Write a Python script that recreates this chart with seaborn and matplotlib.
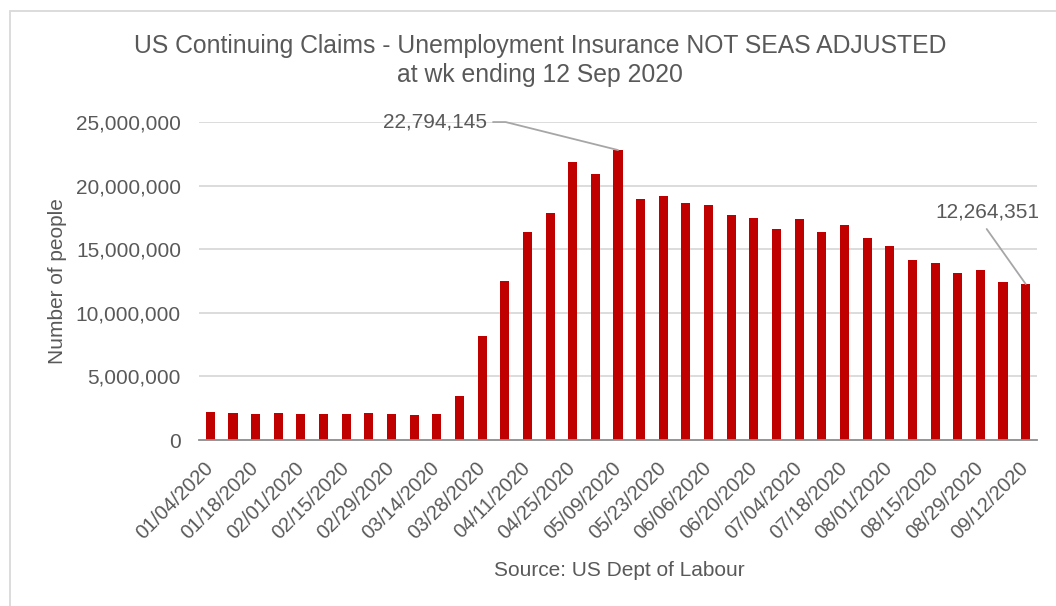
import matplotlib
matplotlib.use("Agg")
import matplotlib.pyplot as plt
import matplotlib.patches as mpatches
import seaborn as sns
import pandas as pd

weeks = [
    "01/04/2020", "01/11/2020", "01/18/2020", "01/25/2020", "02/01/2020", "02/08/2020",
    "02/15/2020", "02/22/2020", "02/29/2020", "03/07/2020", "03/14/2020", "03/21/2020",
    "03/28/2020", "04/04/2020", "04/11/2020", "04/18/2020", "04/25/2020", "05/02/2020",
    "05/09/2020", "05/16/2020", "05/23/2020", "05/30/2020", "06/06/2020", "06/13/2020",
    "06/20/2020", "06/27/2020", "07/04/2020", "07/11/2020", "07/18/2020", "07/25/2020",
    "08/01/2020", "08/08/2020", "08/15/2020", "08/22/2020", "08/29/2020", "09/05/2020",
    "09/12/2020",
]
claims = [
    2240000, 2130000, 2080000, 2160000, 2080000, 2080000,
    2050000, 2130000, 2050000, 1970000, 2050000, 3420000,
    8160000, 12470000, 16320000, 17840000, 21840000, 20920000,
    22794145, 18920000, 19160000, 18660000, 18470000, 17680000,
    17470000, 16550000, 17370000, 16370000, 16870000, 15870000,
    15240000, 14180000, 13890000, 13160000, 13390000, 12450000,
    12264351,
]
y_ticks = [0, 5000000, 10000000, 15000000, 20000000, 25000000]
title_lines = ["US Continuing Claims - Unemployment Insurance NOT SEAS ADJUSTED",
               "at wk ending 12 Sep 2020"]
y_label = "Number of people"
source_text = "Source: US Dept of Labour"

sns.set_style("white")
plt.rcParams["font.family"] = ["Liberation Sans", "DejaVu Sans"]
TXT = "#595959"

df = pd.DataFrame({"week": weeks, "claims": claims})

fig = plt.figure(figsize=(10.56, 6.06), dpi=100)
ax = fig.add_axes([199 / 1056, 1 - 440 / 606, (1037 - 199) / 1056, (440 - 122) / 606])

sns.barplot(data=df, x="week", y="claims", color="#C00000", saturation=1,
            width=0.4, ax=ax, edgecolor="none")

ax.set_ylim(0, 25000000)
ax.set_xlim(-0.5, len(weeks) - 0.5)
ax.set_yticks(y_ticks)
ax.set_yticklabels([f"{v:,}" for v in y_ticks], fontsize=15, color=TXT)
for v in y_ticks[1:]:
    ax.axhline(v, color="#D9D9D9", lw=1.3, zorder=0)

major = list(range(0, len(weeks), 2))
ax.set_xticks(major)
ax.set_xticklabels([weeks[i] for i in major], rotation=45, ha="right", va="center",
                   rotation_mode="anchor", fontsize=14.5, color=TXT)
ax.set_xticks([i - 0.5 for i in range(len(weeks) + 1)], minor=True)
ax.tick_params(axis="x", which="major", length=0, pad=18)
ax.tick_params(axis="x", which="minor", length=6, width=1.3, color="#8C8C8C", direction="out")
ax.tick_params(axis="y", length=0, pad=13)

for s in ["top", "right", "left"]:
    ax.spines[s].set_visible(False)
ax.spines["bottom"].set_color("#8C8C8C")
ax.spines["bottom"].set_linewidth(1.3)

ax.set_xlabel("")
ax.set_ylabel(y_label, fontsize=15, color=TXT, labelpad=6)

fig.text(540 / 1056, 1 - 46 / 606, title_lines[0], ha="center", va="center",
         fontsize=17.8, color=TXT)
fig.text(540 / 1056, 1 - 75 / 606, title_lines[1], ha="center", va="center",
         fontsize=17.8, color=TXT)
fig.text(619 / 1056, 1 - 571 / 606, source_text, ha="center", va="center",
         fontsize=15, color=TXT)

# annotations
imax = claims.index(max(claims))
ilast = len(claims) - 1
lc = "#A6A6A6"
ax.annotate("", xy=(imax, claims[imax]), xytext=(-125, 28), textcoords="offset pixels",
            arrowprops=dict(arrowstyle="-", color=lc, lw=1.3, shrinkA=0, shrinkB=0,
                            connectionstyle="angle,angleA=0,angleB=166,rad=0"))
ax.annotate(f"{claims[imax]:,}", xy=(imax, claims[imax]), xytext=(-131, 28),
            textcoords="offset pixels", ha="right", va="center", fontsize=15, color=TXT)

ax.annotate("", xy=(ilast, claims[ilast]), xytext=(-39, 55), textcoords="offset pixels",
            arrowprops=dict(arrowstyle="-", color=lc, lw=1.3, shrinkA=0, shrinkB=0))
ax.annotate(f"{claims[ilast]:,}", xy=(ilast, claims[ilast]), xytext=(-38, 72),
            textcoords="offset pixels", ha="center", va="center", fontsize=15, color=TXT)

# chart frame (partially cropped like reference)
fig.patches.append(mpatches.Rectangle((10 / 1056, -0.1), 1.2, 1 - 11 / 606 + 0.1,
                                      transform=fig.transFigure, fill=False,
                                      edgecolor="#D9D9D9", lw=1.3))

fig.savefig("out.png", dpi=100)
